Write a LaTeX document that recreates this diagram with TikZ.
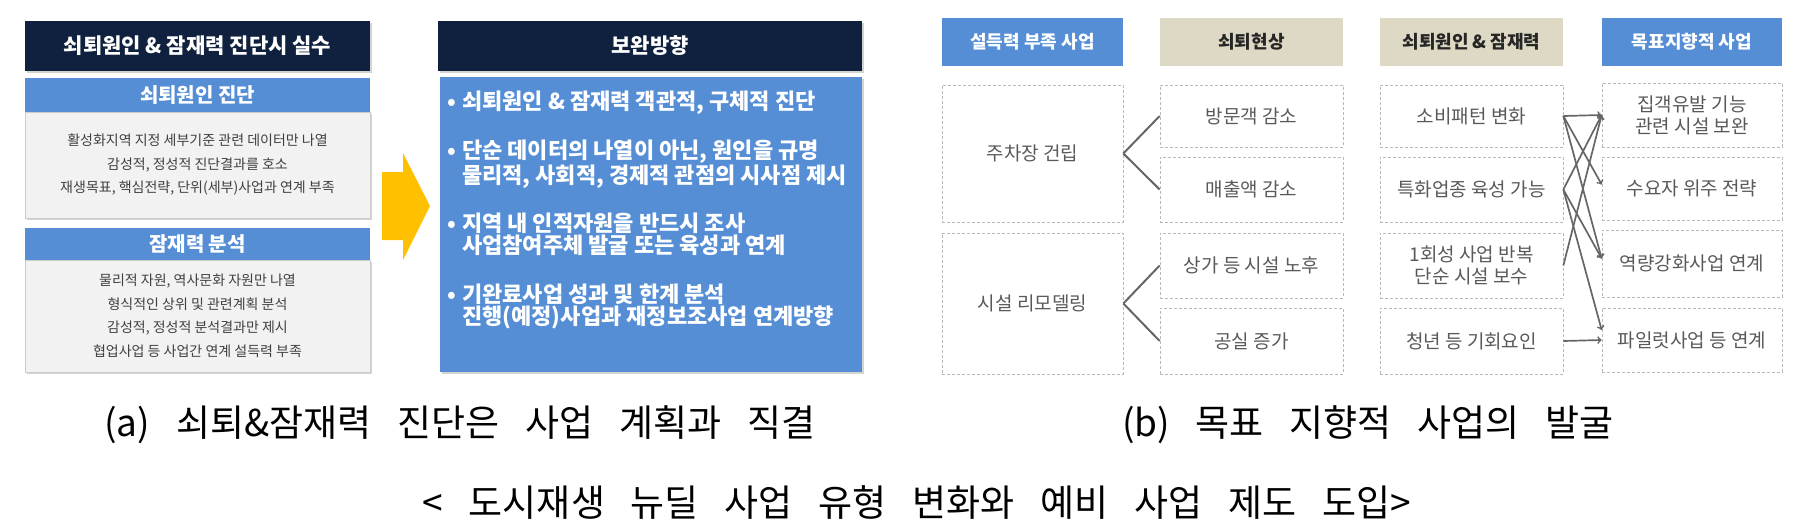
\documentclass[tikz,border=0pt]{standalone}
\usepackage{fontspec}
\setmainfont{Noto Sans CJK KR}
\usepackage{tikz}
\usetikzlibrary{arrows, shadows}

\definecolor{navy}{HTML}{10213F}
\definecolor{barblue}{HTML}{558ED5}
\definecolor{boxgrey}{HTML}{F2F2F2}
\definecolor{beige}{HTML}{DDD9C4}
\definecolor{gold}{HTML}{FFC000}
\definecolor{txtgrey}{HTML}{595959}
\definecolor{linegrey}{HTML}{666666}
\newcommand{\fs}[2]{\fontsize{#1}{#2}\selectfont}
\newcommand{\bul}{\makebox[15pt][l]{•}}
\newcommand{\capfont}{\fs{37}{44}\spaceskip .7em plus .1em\relax}

\begin{document}
\begin{tikzpicture}[x=1pt, y=-1pt,
    shade/.style={drop shadow={shadow xshift=2pt, shadow yshift=-2pt, opacity=.35}},
    hdr/.style={fill=navy, text=white, font=\fs{21}{24}\bfseries, inner sep=0pt, minimum height=50pt, shade},
    bar/.style={fill=barblue, text=white, font=\fs{20}{24}\bfseries, inner sep=0pt, minimum width=345pt},
    greybox/.style={fill=boxgrey, draw=gray!40, text=black!75, font=\fs{14}{23.5}, align=center, inner sep=0pt, minimum width=345pt, shade},
    bullet/.style={anchor=west, text=white, font=\fs{22}{22}\bfseries, align=left, inner sep=0pt},
    colhead/.style={font=\fs{18}{22}\bfseries, inner sep=0pt, minimum height=48pt},
    cell/.style={draw=gray!55, densely dashed, line width=.7pt, text=txtgrey, font=\fs{19}{22}, align=center, inner sep=0pt},
    fork/.style={linegrey, line width=2pt},
    link/.style={->, linegrey, line width=1.7pt},
    caption/.style={font=\capfont}]
  \useasboundingbox (0,0) rectangle (1794,530);

  % (a) left column
  \node[hdr, minimum width=345pt] (hdMist) at (197.5,46) {쇠퇴원인 \& 잠재력 진단시 실수};
  \node[greybox, minimum height=106pt] (boxCause) at (197.5,165) {활성화지역 지정 세부기준 관련 데이터만 나열\\감성적, 정성적 진단결과를 호소\\재생목표, 핵심전략, 단위(세부)사업과 연계 부족};
  \node[bar, minimum height=34pt] (barCause) at (197.5,95) {쇠퇴원인 진단};
  \node[greybox, minimum height=112pt] (boxPot) at (197.5,316) {물리적 자원, 역사문화 자원만 나열\\형식적인 상위 및 관련계획 분석\\감성적, 정성적 분석결과만 제시\\협업사업 등 사업간 연계 설득력 부족};
  \node[bar, minimum height=32pt] (barPot) at (197.5,244) {잠재력 분석};

  % (a) arrow
  \fill[gold] (382,172) -- (403,172) -- (403,153) -- (430,206) -- (403,260) -- (403,240) -- (382,240) -- cycle;

  % (a) right column
  \node[hdr, minimum width=424pt] (hdFix) at (650,46) {보완방향};
  \node[fill=barblue, minimum width=422pt, minimum height=295pt, inner sep=0pt, shade] (boxFix) at (651,224.5) {};
  \node[bullet] (fix1) at (447,103) {\bul 쇠퇴원인 \& 잠재력 객관적, 구체적 진단};
  \node[bullet] (fix2) at (447,164) {\bul 단순 데이터의 나열이 아닌, 원인을 규명\\\hspace*{15pt}물리적, 사회적, 경제적 관점의 시사점 제시};
  \node[bullet] (fix3) at (447,234) {\bul 지역 내 인적자원을 반드시 조사\\\hspace*{15pt}사업참여주체 발굴 또는 육성과 연계};
  \node[bullet] (fix4) at (447,306) {\bul 기완료사업 성과 및 한계 분석\\\hspace*{15pt}진행(예정)사업과 재정보조사업 연계방향};

  % (b) headers
  \node[colhead, fill=barblue, text=white, minimum width=181pt] (hdWeak) at (1032.5,42) {설득력 부족 사업};
  \node[colhead, fill=beige, text=black!85, minimum width=183pt] (hdDecl) at (1251.5,42) {쇠퇴현상};
  \node[colhead, fill=beige, text=black!85, minimum width=183pt] (hdCause) at (1471.5,42) {쇠퇴원인 \& 잠재력};
  \node[colhead, fill=barblue, text=white, minimum width=180pt] (hdGoal) at (1692,42) {목표지향적 사업};

  % (b) cells
  \node[cell, minimum width=181pt, minimum height=137pt] (park) at (1032.5,153.5) {주차장 건립};
  \node[cell, minimum width=181pt, minimum height=141pt] (remod) at (1032.5,303.5) {시설 리모델링};

  \node[cell, minimum width=183pt, minimum height=62pt] (visit) at (1251.5,116) {방문객 감소};
  \node[cell, minimum width=183pt, minimum height=65pt] (sales) at (1251.5,189.5) {매출액 감소};
  \node[cell, minimum width=183pt, minimum height=65pt] (aging) at (1251.5,265.5) {상가 등 시설 노후};
  \node[cell, minimum width=183pt, minimum height=66pt] (vacant) at (1251.5,341) {공실 증가};

  \node[cell, minimum width=183pt, minimum height=62pt] (pattern) at (1471.5,116) {소비패턴 변화};
  \node[cell, minimum width=183pt, minimum height=65pt] (special) at (1471.5,189.5) {특화업종 육성 가능};
  \node[cell, minimum width=183pt, minimum height=65pt] (oneoff) at (1471.5,265.5) {1회성 사업 반복\\단순 시설 보수};
  \node[cell, minimum width=183pt, minimum height=66pt] (youth) at (1471.5,341) {청년 등 기회요인};

  \node[cell, minimum width=180pt, minimum height=64pt] (attract) at (1692,115) {집객유발 기능\\관련 시설 보완};
  \node[cell, minimum width=180pt, minimum height=63pt] (demand) at (1692,188.5) {수요자 위주 전략};
  \node[cell, minimum width=180pt, minimum height=67pt] (capacity) at (1692,263.5) {역량강화사업 연계};
  \node[cell, minimum width=180pt, minimum height=64pt] (pilot) at (1692,340) {파일럿사업 등 연계};

  % (b) connectors
  \draw[fork] (park.east) -- (visit.west);
  \draw[fork] (park.east) -- (sales.west);
  \draw[fork] (remod.east) -- (aging.west);
  \draw[fork] (remod.east) -- (vacant.west);

  \draw[link] (pattern.east) -- (attract.west);
  \draw[link] (pattern.east) -- ([yshift=4pt]demand.west);
  \draw[link] (pattern.east) -- ([yshift=5pt]capacity.west);
  \draw[link] (special.east) -- (attract.west);
  \draw[link] (special.east) -- ([yshift=5pt]capacity.west);
  \draw[link] (special.east) -- ([yshift=10pt]pilot.west);
  \draw[link] (oneoff.east) -- (attract.west);
  \draw[link] (youth.east) -- (pilot.west);

  % captions
  \node[caption] (capA) at (460,425) {(a) 쇠퇴\&잠재력 진단은 사업 계획과 직결};
  \node[caption] (capB) at (1368,425) {(b) 목표 지향적 사업의 발굴};
  \node[caption] (capAll) at (917,503) {< 도시재생 뉴딜 사업 유형 변화와 예비 사업 제도 도입>};
\end{tikzpicture}
\end{document}
